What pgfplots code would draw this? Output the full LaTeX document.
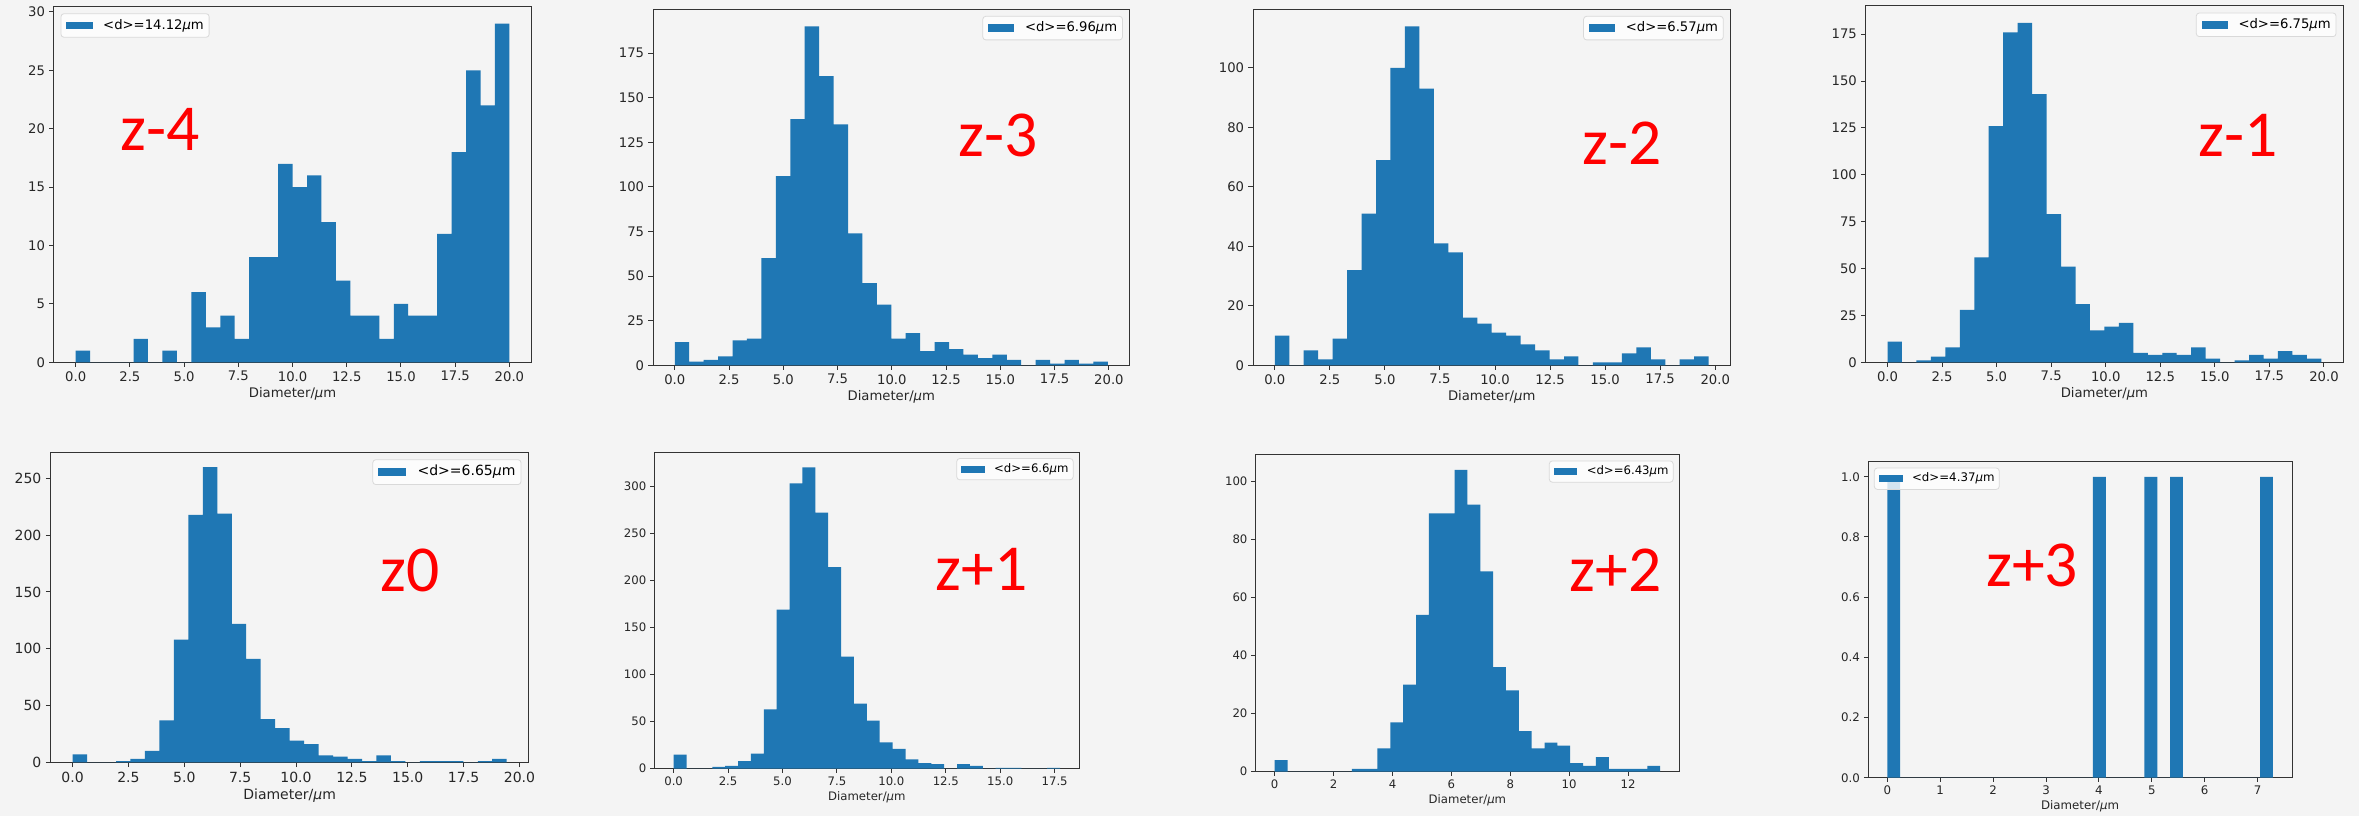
\documentclass[border=0pt]{standalone}
\usepackage{pgfplots}
\pgfplotsset{compat=1.18}
\usepackage{pgfplotstable}
\usepackage{fontspec}
\setmainfont{DejaVu Sans}
\newfontfamily\carlito{Carlito}
\definecolor{bg}{HTML}{F4F4F4}
\definecolor{barblue}{HTML}{1F77B4}
\definecolor{axgray}{HTML}{333333}

\pgfplotstableread[row sep=\\]{c\\1\\0\\0\\0\\2\\0\\1\\0\\6\\3\\4\\2\\9\\9\\17\\15\\16\\12\\7\\4\\4\\2\\5\\4\\4\\11\\18\\25\\22\\29\\0\\}\tA
\pgfplotstableread[row sep=\\]{c\\13\\2\\3\\5\\14\\15\\60\\106\\138\\190\\162\\135\\74\\46\\34\\15\\18\\8\\13\\9\\6\\4\\6\\3\\0\\3\\1\\3\\1\\2\\0\\}\tB
\pgfplotstableread[row sep=\\]{c\\10\\0\\5\\2\\9\\32\\51\\69\\100\\114\\93\\41\\38\\16\\14\\11\\10\\7\\5\\2\\3\\0\\1\\1\\4\\6\\2\\0\\2\\3\\0\\}\tC
\pgfplotstableread[row sep=\\]{c\\11\\0\\1\\3\\8\\28\\56\\126\\176\\181\\143\\79\\51\\31\\17\\19\\21\\5\\4\\5\\4\\8\\2\\0\\1\\4\\2\\6\\4\\2\\0\\}\tD
\pgfplotstableread[row sep=\\]{c\\7\\0\\0\\1\\3\\10\\37\\108\\218\\260\\219\\122\\91\\38\\30\\19\\16\\6\\5\\3\\1\\6\\1\\0\\1\\1\\1\\0\\1\\3\\0\\}\tE
\pgfplotstableread[row sep=\\]{c\\15\\0\\0\\2\\3\\8\\16\\63\\169\\303\\320\\272\\214\\119\\69\\51\\28\\21\\10\\6\\5\\0\\5\\3\\0\\1\\1\\0\\0\\1\\0\\}\tF
\pgfplotstableread[row sep=\\]{c\\4\\0\\0\\0\\0\\0\\1\\1\\8\\17\\30\\54\\89\\89\\104\\92\\69\\36\\28\\14\\8\\10\\9\\3\\2\\5\\1\\1\\1\\2\\0\\}\tG
\pgfplotstableread[row sep=\\]{c\\1\\0\\0\\0\\0\\0\\0\\0\\0\\0\\0\\0\\0\\0\\0\\0\\1\\0\\0\\0\\1\\0\\1\\0\\0\\0\\0\\0\\0\\1\\0\\}\tH

\pgfplotsset{
  /pgf/number format/assume math mode=true,
  histo/.style={
    scale only axis,
    tick align=outside, tick pos=left,
    axis line style={axgray, line width=0.5pt},
    every tick/.style={axgray, line width=0.5pt},
    ymin=0, scaled ticks=false,
    xlabel={Diameter/\textit{μ}m},
    tick label style={text=black!85},
    label style={text=black!85},
    legend cell align=left,
    legend style={draw=black!15, fill=white, fill opacity=0.8, text opacity=1,
      rounded corners=1.5pt},
  },
  fs/.style={
    tick label style={font=\fontsize{#1}{#1}\selectfont},
    label style={font=\fontsize{#1}{#1}\selectfont},
    major tick length=0.35*#1pt,
    xticklabel style={inner sep=0.3*#1pt},
    yticklabel style={inner sep=0.3*#1pt},
    xlabel style={inner sep=0.15*#1pt},
    legend style={font=\fontsize{#1}{#1}\selectfont,
      inner xsep=0.4*#1pt, inner ysep=0.3*#1pt,
      nodes={inner xsep=0pt, inner ysep=0.1*#1pt},
      /tikz/every odd column/.append style={column sep=0.8*#1pt}},
  },
  xdec/.style={x tick label style={/pgf/number format/.cd, fixed, fixed zerofill, precision=1}},
  ydec/.style={y tick label style={/pgf/number format/.cd, fixed, fixed zerofill, precision=1}},
  legUR/.style={legend style={at={(1,1)}, anchor=north east, xshift=-0.5*#1pt, yshift=-0.5*#1pt}},
  legUL/.style={legend style={at={(0,1)}, anchor=north west, xshift=0.5*#1pt, yshift=-0.5*#1pt}},
  hbar/.style={ybar interval, fill=barblue, draw=none,
    legend image code/.code={\fill[barblue, fill opacity=1, sharp corners]
      (0pt,-0.3*#1pt) rectangle (2*#1pt,0.3*#1pt);}},
}
\newcommand{\zlab}[3]{\node[anchor=base, text=red, inner sep=0pt,
  font=\carlito\fontsize{32.8}{32.8}\selectfont] at (#1pt,#2pt) {#3};}

\begin{document}
\begin{tikzpicture}
\useasboundingbox[fill=bg] (0,0) rectangle (1179.5pt,408pt);

% z-4
\begin{axis}[histo, fs=6.6, xdec, legUL=6.6, at={(27pt,226.85pt)}, anchor=south west,
  width=238.55pt, height=177.8pt, xmin=-1, xmax=21, ymax=30.45,
  xtick={0,2.5,...,20}, ytick={0,5,...,30}]
\addplot[hbar=6.6] table[x expr=\coordindex*0.666667, y=c] {\tA};
\addlegendentry{<d>=14.12\textit{μ}m}
\end{axis}

% z-3
\begin{axis}[histo, fs=6.6, xdec, legUR=6.6, at={(326.55pt,225.35pt)}, anchor=south west,
  width=238.2pt, height=178pt, xmin=-0.9975, xmax=20.9475, ymax=199.5,
  xtick={0,2.5,...,20}, ytick={0,25,...,175}]
\addplot[hbar=6.6] table[x expr=\coordindex*0.665, y=c] {\tB};
\addlegendentry{<d>=6.96\textit{μ}m}
\end{axis}

% z-2
\begin{axis}[histo, fs=6.6, xdec, legUR=6.6, at={(626.55pt,225.35pt)}, anchor=south west,
  width=238.6pt, height=178pt, xmin=-0.985, xmax=20.685, ymax=119.7,
  xtick={0,2.5,...,20}, ytick={0,20,...,100}]
\addplot[hbar=6.6] table[x expr=\coordindex*0.656667, y=c] {\tC};
\addlegendentry{<d>=6.57\textit{μ}m}
\end{axis}

% z-1
\begin{axis}[histo, fs=6.6, xdec, legUR=6.6, at={(932.9pt,226.85pt)}, anchor=south west,
  width=238.6pt, height=178.15pt, xmin=-0.994, xmax=20.874, ymax=190.05,
  xtick={0,2.5,...,20}, ytick={0,25,...,175}]
\addplot[hbar=6.6] table[x expr=\coordindex*0.662667, y=c] {\tD};
\addlegendentry{<d>=6.75\textit{μ}m}
\end{axis}

% z0
\begin{axis}[histo, fs=7, xdec, legUR=7, at={(25.45pt,26.85pt)}, anchor=south west,
  width=238.75pt, height=155pt, xmin=-0.9715, xmax=20.4015, ymax=273,
  xtick={0,2.5,...,20}, ytick={0,50,...,250}]
\addplot[hbar=7] table[x expr=\coordindex*0.647667, y=c] {\tE};
\addlegendentry{<d>=6.65\textit{μ}m}
\end{axis}

% z+1
\begin{axis}[histo, fs=5.85, xdec, legUR=5.85, at={(327.15pt,23.65pt)}, anchor=south west,
  width=212.55pt, height=158.2pt, xmin=-0.8875, xmax=18.6375, ymax=336,
  xtick={0,2.5,...,17.5}, ytick={0,50,...,300}]
\addplot[hbar=5.85] table[x expr=\coordindex*0.591667, y=c] {\tF};
\addlegendentry{<d>=6.6\textit{μ}m}
\end{axis}

% z+2
\begin{axis}[histo, fs=5.85, legUR=5.85, at={(627.7pt,22.15pt)}, anchor=south west,
  width=212pt, height=158.5pt, xmin=-0.6545, xmax=13.7445, ymax=109.2,
  xtick={0,2,...,12}, ytick={0,20,...,100}]
\addplot[hbar=5.85] table[x expr=\coordindex*0.436333, y=c] {\tG};
\addlegendentry{<d>=6.43\textit{μ}m}
\end{axis}

% z+3
\begin{axis}[histo, fs=5.9, ydec, legUL=5.9, at={(934pt,19.15pt)}, anchor=south west,
  width=212.1pt, height=158pt, xmin=-0.3645, xmax=7.6545, ymax=1.05,
  xtick={0,1,...,7}, ytick={0,0.2,...,1.0}]
\addplot[hbar=5.9] table[x expr=\coordindex*0.243, y=c] {\tH};
\addlegendentry{<d>=4.37\textit{μ}m}
\end{axis}

\zlab{80}{332.65}{z-4}
\zlab{499}{330}{z-3}
\zlab{810.9}{326}{z-2}
\zlab{1118.9}{329.65}{z-1}
\zlab{205}{112.5}{z0}
\zlab{490.85}{112.65}{z+1}
\zlab{807.85}{112.5}{z+2}
\zlab{1016}{114.65}{z+3}
\end{tikzpicture}
\end{document}
